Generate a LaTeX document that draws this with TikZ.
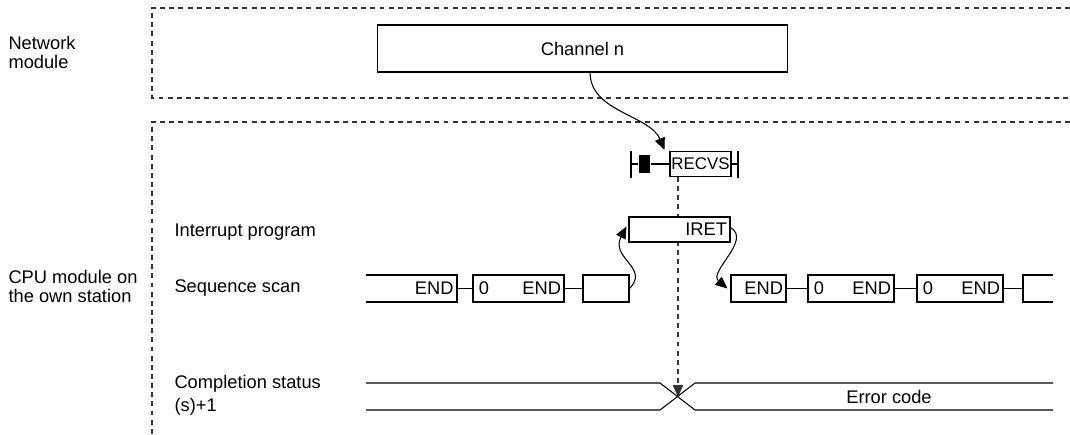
\documentclass[tikz,border=0pt]{standalone}
\usepackage{fontspec}
\setmainfont{Liberation Sans}
\usetikzlibrary{arrows.meta}
\begin{document}
\begin{tikzpicture}[
        x=0.025cm, y=-0.025cm,
        line width=0.75pt,
        font=\fontsize{13}{15}\selectfont,
        modframe/.style={dash pattern=on 3.5pt off 3pt, black!80},
        box/.style={
            draw,
            inner xsep=0.075cm,
            inner ysep=0pt,
            minimum height=0.675cm
        },
        rowlabel/.style={align=left, anchor=north west, inner sep=0pt, font=\fontsize{13}{13.5}\selectfont},
        arrow/.style={-{Triangle[length=0.3cm,width=0.26cm]}},
        dasharrow/.style={arrow, dash pattern=on 3.5pt off 3pt, black!80}
    ]

    \useasboundingbox (0,0) rectangle (1070,434);

    \draw[modframe] (1070,8) -- (152,8) -- (152,98) -- (1070,98);
    \draw[modframe] (1070,122) -- (152,122) -- (152,434);

    \node[rowlabel] (netlbl) at (8,36) {Network\\module};
    \node[rowlabel] (cpulbl) at (8,270) {CPU module on\\the own station};
    \node[anchor=base west, inner sep=0pt] (intlbl) at (174,236) {Interrupt program};
    \node[anchor=base west, inner sep=0pt] (seqlbl) at (174,292) {Sequence scan};
    \node[rowlabel, font=\fontsize{13}{16.4}\selectfont] (cmplbl) at (174,375) {Completion status\\(s)+1};

    \node[box, minimum width=10.225cm, minimum height=1.175cm] (chan) at (582.5,48.5) {Channel n};

    \node[box, minimum width=1.525cm, minimum height=0.625cm, inner xsep=0pt, font=\fontsize{12}{14}\selectfont] (recvs) at (700.5,164) {RECVS};
    \node[fill, minimum width=0.275cm, minimum height=0.45cm, inner sep=0pt] (contact) at (644.5,164) {};
    \coordinate (lrail) at (631,164);
    \coordinate (rrail) at (738,164);
    \draw (lrail) ++(0,-13) -- ++(0,27);
    \draw (rrail) ++(0,-13) -- ++(0,27);
    \draw (lrail) -- (contact) -- (recvs) -- (rrail);

    \coordinate (cross) at (678,397);
    \draw[dasharrow] (recvs.south -| cross) -- (cross);

    \node[box, fill=white, minimum height=0.625cm, text width=2.375cm, align=right] (iret) at (679.5,229.5) {IRET};

    \draw (366,275) -| (457,302) -- (366,302);
    \node[anchor=east, inner sep=0.075cm] (l1) at (457,288.5) {END};
    \node[box, text width=2.125cm] (l2) at (518.5,288.5) {\hspace{2pt}0\hfill END};
    \node[box, text width=1.0cm] (l3) at (606,288.5) {};
    \draw (l1) -- (l2) -- (l3);

    \node[box, text width=1.225cm, align=right] (r1) at (758.5,288.5) {END};
    \node[box, text width=2.0cm] (r2) at (851,288.5) {\hspace{2pt}0\hfill END};
    \node[box, text width=2.0cm] (r3) at (960,288.5) {\hspace{2pt}0\hfill END};
    \draw (1053,275) -| (1023,302) -- (1053,302);
    \coordinate (r4) at (1023,288.5);
    \draw (r1) -- (r2) -- (r3) -- (r4);

    \draw[arrow] ([xshift=0.19cm]chan.south) .. controls (590,112) and (650,115) .. ([shift={(-5,-1)}]recvs.north west);
    \draw[arrow] (l3.east) .. controls (650,268) and (610,258) .. ([shift={(-2,-3)}]iret.west);
    \draw[arrow] ([shift={(0,-2)}]iret.east) .. controls (752,240) and (708,272) .. ([shift={(-3,0)}]r1.west);

    \draw (366,383) -- (660,383) -- (695,410) -- (1053,410);
    \draw (366,410) -- (660,410) -- (695,383) -- (1053,383);
    \node (err) at (889,397) {Error code};

    \end{tikzpicture}
\end{document}
